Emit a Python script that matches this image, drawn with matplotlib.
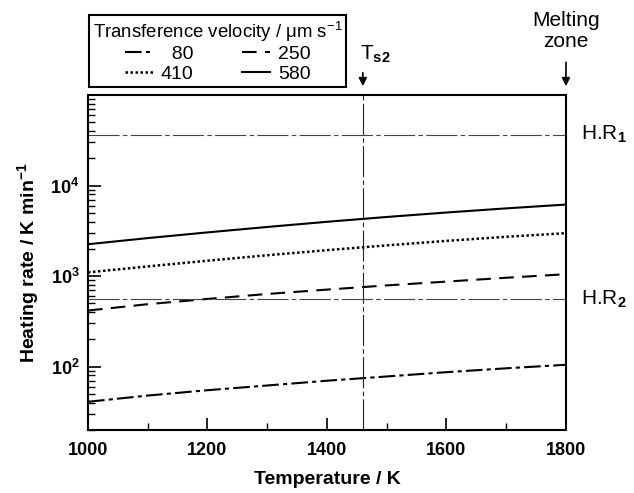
import matplotlib
matplotlib.use("Agg")
import matplotlib.pyplot as plt
from matplotlib.ticker import FixedLocator, NullFormatter, LogLocator
import numpy as np

plt.rcParams['font.family'] = ['Liberation Sans', 'DejaVu Sans']
plt.rcParams['mathtext.fontset'] = 'custom'
plt.rcParams['mathtext.rm'] = 'Liberation Sans'
plt.rcParams['mathtext.bf'] = 'Liberation Sans:bold'

# data
temperature = [1000, 1100, 1200, 1300, 1400, 1500, 1600, 1700, 1800]
rate_80 = [41, 48, 55, 62, 70, 78, 87, 96, 105]
rate_250 = [417, 490, 560, 635, 710, 790, 870, 960, 1050]
rate_410 = [1100, 1280, 1480, 1700, 1935, 2185, 2450, 2720, 2980]
rate_580 = [2250, 2630, 3040, 3490, 3980, 4500, 5040, 5600, 6170]
hr1 = 36500
hr2 = 560
ts2 = 1460
melt = 1800

fig = plt.figure(figsize=(6.34, 4.93), dpi=100)
ax = fig.add_axes([0.1388, 0.1278, 0.7539, 0.6795])

l80, = ax.plot(temperature, rate_80, color='black', lw=1.5, ls=(0, (8, 2, 2, 2)))
l250, = ax.plot(temperature, rate_250, color='black', lw=1.5, ls=(0, (7, 4)))
l410, = ax.plot(temperature, rate_410, color='black', lw=1.8, ls=(0, (1, 1)))
l580, = ax.plot(temperature, rate_580, color='black', lw=1.5, ls='-')

dashdot = (0, (28, 3, 4, 3))
ax.axhline(hr1, color='#444444', lw=0.8, ls=dashdot)
ax.axhline(hr2, color='#444444', lw=0.8, ls=dashdot)
ax.axvline(ts2, color='#222222', lw=0.8, ls=dashdot)

ax.set_yscale('log')
ax.set_xlim(1000, 1800)
ax.set_ylim(20, 1e5)

ax.xaxis.set_major_locator(FixedLocator([1000, 1200, 1400, 1600, 1800]))
ax.xaxis.set_minor_locator(FixedLocator([1100, 1300, 1500, 1700]))
ax.yaxis.set_major_locator(FixedLocator([1e2, 1e3, 1e4]))
ax.yaxis.set_minor_locator(LogLocator(base=10, subs=np.arange(2, 10)))
ax.yaxis.set_minor_formatter(NullFormatter())
ax.set_yticklabels([r'$\mathbf{10^2}$', r'$\mathbf{10^3}$', r'$\mathbf{10^4}$'])

ax.tick_params(which='both', direction='in', top=False, right=False)
ax.tick_params(which='major', length=9, width=1.2, labelsize=13)
ax.tick_params(axis='x', which='major', pad=9)
ax.tick_params(axis='y', which='major', pad=6)
ax.tick_params(which='minor', length=5, width=1.0)
for lab in ax.get_xticklabels():
    lab.set_fontweight('bold')
for sp in ax.spines.values():
    sp.set_linewidth(1.5)

ax.set_xlabel('Temperature / K', fontsize=14, fontweight='bold', labelpad=8)
ax.set_ylabel(r'Heating rate / K min$^{\mathbf{-1}}$', fontsize=14, fontweight='bold', labelpad=6)

leg = ax.legend([l80, l410, l250, l580], ['  80', '410', '250', '580'], ncol=2,
                title=r'Transference velocity / $\mathrm{\mu}$m s$^{-1}$',
                loc='lower left', bbox_to_anchor=(0.002, 1.024), fontsize=14,
                title_fontsize=13.4, frameon=True, fancybox=False, framealpha=1,
                handlelength=1.45, columnspacing=2.5, borderaxespad=0, borderpad=0.2,
                labelspacing=0.15, handletextpad=0.4)
leg._legend_box.sep = 1
leg.get_frame().set_edgecolor('black')
leg.get_frame().set_linewidth(1.5)

xt = ax.get_xaxis_transform()
ax.text(ts2 - 5, 1.122, r'T$_{\mathbf{s2}}$', fontsize=15, ha='left', va='center', transform=xt)
ax.annotate('', xy=(ts2, 1.018), xytext=(ts2, 1.075), xycoords=xt, textcoords=xt,
            arrowprops=dict(arrowstyle='-|>', color='black', lw=1.2, mutation_scale=12),
            annotation_clip=False)
ax.text(melt, 1.19, 'Melting\nzone', fontsize=15, ha='center', va='center',
        linespacing=1.15, transform=xt)
ax.annotate('', xy=(melt, 1.018), xytext=(melt, 1.106), xycoords=xt, textcoords=xt,
            arrowprops=dict(arrowstyle='-|>', color='black', lw=1.2, mutation_scale=12),
            annotation_clip=False)
ax.text(1825, hr1, r'H.R$_{\mathbf{1}}$', fontsize=15, ha='left', va='center')
ax.text(1825, hr2, r'H.R$_{\mathbf{2}}$', fontsize=15, ha='left', va='center')

fig.savefig('out.png', dpi=100)
